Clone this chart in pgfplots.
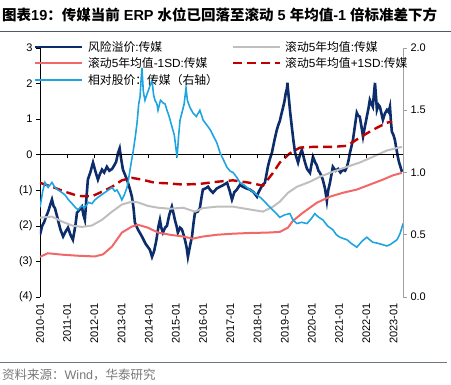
\documentclass[border=0pt]{standalone}
\usepackage{fontspec}
\setmainfont{Liberation Sans}
\newfontfamily\cjk{Noto Sans CJK SC}
\usepackage{pgfplots}
\pgfplotsset{compat=1.18}
\definecolor{navy}{RGB}{12,44,107}
\definecolor{grayl}{RGB}{191,191,191}
\definecolor{pinkr}{RGB}{242,104,104}
\definecolor{darkred}{RGB}{192,0,0}
\definecolor{lblue}{RGB}{30,165,225}
\definecolor{srcgray}{RGB}{120,120,120}
\begin{document}
\begin{tikzpicture}
\path[use as bounding box] (0bp,0bp) rectangle (451bp,385bp);
\node[anchor=west, inner sep=0, font=\fontsize{14.5bp}{16bp}\selectfont\bfseries] at (2bp,370bp) {{\cjk 图表}19{\cjk ：传媒当前} ERP {\cjk 水位已回落至滚动} 5 {\cjk 年均值}-1 {\cjk 倍标准差下方}};
\draw[color={rgb,255:red,80;green,90;blue,100}, line width=0.8bp] (0bp,354bp) -- (451bp,354bp);
\draw[color={rgb,255:red,110;green,120;blue,130}, line width=0.6bp] (0bp,23bp) -- (447bp,23bp);
\node[anchor=west, inner sep=0, text=srcgray, font=\fontsize{12.5bp}{14bp}\selectfont] at (2bp,10bp) {{\cjk 资料来源：}Wind{\cjk ，华泰研究}};

\begin{axis}[
  at={(40bp,88bp)}, anchor=south west, scale only axis, width=363bp, height=249bp,
  xmin=2010, xmax=2023.35, ymin=-4, ymax=3,
  axis x line*=bottom, axis y line*=left,
  x axis line style={draw=none},
  xtick={2010,2011,2012,2013,2014,2015,2016,2017,2018,2019,2020,2021,2022,2023},
  xticklabels={2010-01,2011-01,2012-01,2013-01,2014-01,2015-01,2016-01,2017-01,2018-01,2019-01,2020-01,2021-01,2022-01,2023-01},
  xticklabel style={rotate=90, anchor=east, font=\fontsize{11bp}{13bp}\selectfont, inner sep=2bp},
  x tick style={draw=none},
  ytick={-4,-3,-2,-1,0,1,2,3},
  yticklabels={(4),(3),(2),(1),0,1,2,3},
  yticklabel style={font=\fontsize{11bp}{13bp}\selectfont},
  y tick style={black, line width=0.6bp},
  tick align=outside, major tick length=4bp,
  y axis line style={black, line width=0.8bp},
]
\addplot[navy, line width=2.6bp] coordinates {
(2010.00,-2.25) (2010.08,-2.0) (2010.15,-1.9) (2010.22,-1.75) (2010.30,-1.6) (2010.38,-1.4) (2010.44,-1.26) (2010.50,-1.45) (2010.55,-1.5)
(2010.63,-1.74) (2010.70,-1.95) (2010.75,-2.1) (2010.85,-2.3) (2010.95,-2.15) (2011.03,-2.05) (2011.12,-2.25) (2011.21,-2.39)
(2011.30,-2.0) (2011.36,-1.63) (2011.45,-1.55) (2011.54,-1.46) (2011.60,-1.7) (2011.65,-1.83) (2011.70,-1.3) (2011.76,-0.70)
(2011.85,-0.5) (2011.95,-0.22) (2012.05,-0.5) (2012.13,-0.70) (2012.20,-0.55) (2012.28,-0.42) (2012.36,-0.5) (2012.46,-0.34)
(2012.55,-0.45) (2012.65,-0.40) (2012.73,-0.3) (2012.80,-0.2) (2012.87,0.05) (2012.93,0.18) (2012.98,-0.1) (2013.05,-0.42)
(2013.12,-0.55) (2013.20,-0.70) (2013.30,-0.95) (2013.38,-1.18) (2013.44,-1.5) (2013.49,-1.91) (2013.60,-2.1) (2013.75,-2.30)
(2013.88,-2.5) (2014.04,-2.67) (2014.12,-2.87) (2014.20,-2.7) (2014.28,-2.4) (2014.36,-2.0) (2014.41,-1.83) (2014.46,-2.05)
(2014.52,-2.19) (2014.60,-2.05) (2014.67,-2.0) (2014.75,-1.7) (2014.85,-1.46) (2014.91,-1.65) (2014.96,-1.83) (2015.02,-2.0)
(2015.07,-2.19) (2015.15,-2.05) (2015.22,-2.1) (2015.28,-2.25) (2015.33,-2.39) (2015.39,-2.6) (2015.44,-2.87) (2015.52,-2.55)
(2015.59,-2.30) (2015.65,-1.9) (2015.70,-1.63) (2015.80,-1.6) (2015.88,-1.5) (2015.94,-1.2) (2015.99,-0.98) (2016.08,-0.95)
(2016.18,-0.90) (2016.27,-1.0) (2016.36,-1.07) (2016.50,-0.95) (2016.62,-0.90) (2016.75,-0.85) (2016.88,-0.79) (2016.97,-1.0)
(2017.06,-1.26) (2017.15,-1.05) (2017.24,-0.98) (2017.35,-0.85) (2017.46,-0.90) (2017.60,-0.95) (2017.72,-0.98) (2017.85,-1.05)
(2017.98,-1.18) (2018.04,-1.05) (2018.09,-0.98) (2018.18,-0.85) (2018.27,-0.79) (2018.33,-0.55) (2018.38,-0.34) (2018.46,-0.1)
(2018.53,0.06) (2018.62,0.4) (2018.71,0.70) (2018.77,0.85) (2018.82,0.95) (2018.88,1.15) (2018.93,1.30) (2018.99,1.5)
(2019.04,1.74) (2019.08,1.85) (2019.10,2.02) (2019.13,1.75) (2019.15,1.6) (2019.20,1.2) (2019.26,0.79) (2019.32,0.4)
(2019.38,0.06) (2019.44,-0.1) (2019.49,-0.22) (2019.56,0.0) (2019.63,0.14) (2019.69,-0.05) (2019.74,-0.2) (2019.82,-0.4)
(2019.93,-0.51) (2019.99,-0.25) (2020.04,-0.06) (2020.11,-0.2) (2020.18,-0.3) (2020.24,-0.45) (2020.29,-0.5) (2020.35,-0.6)
(2020.40,-0.70) (2020.48,-0.95) (2020.55,-1.30) (2020.60,-1.0) (2020.66,-0.80) (2020.72,-0.55) (2020.77,-0.34) (2020.87,-0.45)
(2020.96,-0.40) (2021.05,-0.5) (2021.14,-0.42) (2021.22,-0.45) (2021.29,-0.34) (2021.35,-0.15) (2021.40,0.06) (2021.46,0.25)
(2021.51,0.42) (2021.58,0.8) (2021.65,1.18) (2021.70,1.1) (2021.76,1.07) (2021.82,0.8) (2021.88,0.51) (2021.95,0.8)
(2022.02,1.07) (2022.08,1.3) (2022.13,1.54) (2022.18,1.45) (2022.24,1.35) (2022.28,1.7) (2022.32,2.02) (2022.36,1.6)
(2022.39,1.26) (2022.45,1.4) (2022.50,1.35) (2022.56,1.15) (2022.61,0.98) (2022.68,1.15) (2022.76,1.26) (2022.82,1.2)
(2022.87,1.35) (2022.90,1.0) (2022.94,0.65) (2023.00,0.55) (2023.05,0.42) (2023.10,0.2) (2023.16,-0.06) (2023.20,-0.2)
(2023.24,-0.30) (2023.28,-0.4) (2023.31,-0.48)
};
\addplot[grayl, line width=2bp] coordinates {
(2010.00,-1.77) (2010.44,-1.74) (2010.81,-1.88) (2011.18,-1.99) (2011.54,-2.03) (2011.91,-1.99) (2012.28,-1.83)
(2012.65,-1.60) (2013.01,-1.40) (2013.38,-1.32) (2013.60,-1.34) (2013.97,-1.44) (2014.34,-1.49) (2014.78,-1.52)
(2015.26,-1.49) (2015.70,-1.60) (2015.99,-1.50) (2016.51,-1.46) (2017.10,-1.46) (2017.72,-1.54) (2018.20,-1.60)
(2018.57,-1.46) (2018.82,-1.32) (2019.12,-1.07) (2019.45,-0.90) (2019.93,-0.76) (2020.29,-0.62) (2020.77,-0.48)
(2021.29,-0.34) (2021.76,-0.22) (2022.24,-0.06) (2022.76,0.12) (2023.31,0.22)
};
\addplot[pinkr, line width=2bp] coordinates {
(2010.00,-2.87) (2010.29,-2.77) (2010.81,-2.81) (2011.40,-2.84) (2012.02,-2.86) (2012.32,-2.80) (2012.65,-2.58)
(2013.01,-2.19) (2013.38,-2.02) (2013.60,-1.97) (2013.97,-2.05) (2014.34,-2.19) (2014.78,-2.25) (2015.26,-2.30)
(2015.62,-2.36) (2015.99,-2.30) (2016.51,-2.25) (2017.10,-2.22) (2017.72,-2.20) (2018.35,-2.19) (2018.82,-2.17)
(2019.12,-2.05) (2019.30,-1.86) (2019.67,-1.63) (2020.18,-1.35) (2020.66,-1.18) (2021.14,-1.07) (2021.65,-0.98)
(2022.13,-0.84) (2022.61,-0.70) (2022.98,-0.58) (2023.31,-0.51)
};
\addplot[darkred, line width=2.4bp, dash pattern=on 9bp off 5bp] coordinates {
(2010.00,-0.79) (2010.44,-0.90) (2010.92,-1.04) (2011.40,-1.16) (2011.91,-1.17) (2012.28,-1.04) (2012.65,-0.90)
(2013.01,-0.72) (2013.38,-0.65) (2013.75,-0.70) (2014.23,-0.79) (2014.60,-0.80) (2015.26,-0.84) (2015.88,-0.82)
(2016.51,-0.76) (2017.10,-0.72) (2017.72,-0.79) (2018.20,-0.87) (2018.57,-0.51) (2018.82,-0.22) (2019.19,0.04)
(2019.56,0.20) (2020.04,0.22) (2020.77,0.22) (2021.29,0.25) (2021.76,0.48) (2022.24,0.70) (2022.76,0.90) (2022.94,0.93)
};
\addplot[black, line width=0.8bp, forget plot] coordinates {(2010,0) (2023.35,0)};
\pgfplotsinvokeforeach{2011,2012,2013,2014,2015,2016,2017,2018,2019,2020,2021,2022,2023}{
  \draw[black, line width=0.6bp] (axis cs:#1,0) -- ([yshift=-3bp]axis cs:#1,0);
}
\end{axis}

\begin{axis}[
  at={(40bp,88bp)}, anchor=south west, scale only axis, width=363bp, height=249bp,
  xmin=2010, xmax=2023.35, ymin=0, ymax=2,
  axis x line=none, axis y line*=right,
  ytick={0,0.5,1,1.5,2}, yticklabels={0.0,0.5,1.0,1.5,2.0},
  yticklabel style={font=\fontsize{11bp}{13bp}\selectfont},
  y axis line style={color={rgb,255:red,160;green,160;blue,160}, line width=0.8bp},
  y tick style={color={rgb,255:red,160;green,160;blue,160}, line width=0.6bp},
  tick align=outside, major tick length=4bp,
]
\addplot[lblue, line width=1.6bp] coordinates {
(2010.00,0.72) (2010.10,0.85) (2010.18,0.92) (2010.30,0.88) (2010.44,0.92) (2010.55,0.88) (2010.66,0.86) (2010.80,0.84)
(2010.92,0.82) (2011.05,0.78) (2011.18,0.75) (2011.30,0.72) (2011.40,0.70) (2011.52,0.73) (2011.65,0.72) (2011.78,0.76)
(2011.91,0.75) (2012.02,0.78) (2012.13,0.80) (2012.26,0.82) (2012.39,0.84) (2012.52,0.86) (2012.65,0.88) (2012.75,0.85)
(2012.83,0.86) (2012.93,0.82) (2013.01,0.78) (2013.10,0.82) (2013.20,0.88) (2013.26,0.95) (2013.31,1.02) (2013.37,1.10)
(2013.42,1.16) (2013.50,1.28) (2013.57,1.40) (2013.63,1.55) (2013.68,1.61) (2013.72,1.75) (2013.75,1.84) (2013.80,1.65)
(2013.86,1.58) (2013.92,1.62) (2013.97,1.65) (2014.05,1.70) (2014.12,1.74) (2014.18,1.62) (2014.23,1.58) (2014.30,1.55)
(2014.34,1.50) (2014.43,1.58) (2014.52,1.56) (2014.60,1.55) (2014.67,1.50) (2014.75,1.45) (2014.85,1.37) (2014.94,1.30)
(2015.04,1.12) (2015.10,1.30) (2015.15,1.42) (2015.22,1.48) (2015.30,1.55) (2015.37,1.68) (2015.42,1.58) (2015.50,1.53)
(2015.62,1.48) (2015.75,1.45) (2015.88,1.50) (2016.00,1.42) (2016.14,1.38) (2016.27,1.34) (2016.36,1.30) (2016.50,1.24)
(2016.62,1.16) (2016.75,1.10) (2016.88,1.04) (2017.00,1.01) (2017.10,1.00) (2017.24,0.96) (2017.35,0.92) (2017.50,0.90)
(2017.61,0.88) (2017.80,0.85) (2017.98,0.82) (2018.10,0.80) (2018.20,0.78) (2018.33,0.75) (2018.46,0.72) (2018.65,0.68)
(2018.82,0.64) (2019.00,0.66) (2019.19,0.67) (2019.30,0.62) (2019.45,0.59) (2019.62,0.60) (2019.82,0.59) (2019.98,0.63)
(2020.11,0.67) (2020.25,0.64) (2020.40,0.62) (2020.58,0.57) (2020.77,0.54) (2020.90,0.50) (2021.03,0.48) (2021.15,0.47)
(2021.29,0.46) (2021.45,0.43) (2021.65,0.40) (2021.85,0.45) (2022.02,0.48) (2022.12,0.46) (2022.24,0.44) (2022.45,0.43)
(2022.61,0.42) (2022.75,0.41) (2022.87,0.42) (2023.00,0.44) (2023.13,0.46) (2023.20,0.49) (2023.24,0.51) (2023.30,0.55) (2023.35,0.59)
};
\end{axis}

% legend
\begin{scope}[every node/.style={anchor=west, inner sep=0, font=\fontsize{11.8bp}{14bp}\selectfont}]
\draw[navy, line width=2.6bp] (35bp,338bp) -- (82bp,338bp);
\node at (88bp,338bp) {{\cjk 风险溢价}:{\cjk 传媒}};
\draw[grayl, line width=2bp] (233bp,338bp) -- (280bp,338bp);
\node at (285bp,338bp) {{\cjk 滚动}5{\cjk 年均值}:{\cjk 传媒}};
\draw[pinkr, line width=2bp] (35bp,322bp) -- (82bp,322bp);
\node at (88bp,322bp) {{\cjk 滚动}5{\cjk 年均值}-1SD:{\cjk 传媒}};
\draw[darkred, line width=2.4bp, dash pattern=on 9bp off 5bp] (233bp,322bp) -- (280bp,322bp);
\node at (285bp,322bp) {{\cjk 滚动}5{\cjk 年均值}+1SD:{\cjk 传媒}};
\draw[lblue, line width=1.6bp] (35bp,305bp) -- (82bp,305bp);
\node at (88bp,305bp) {{\cjk 相对股价：传媒（右轴）}};
\end{scope}
\end{tikzpicture}
\end{document}
